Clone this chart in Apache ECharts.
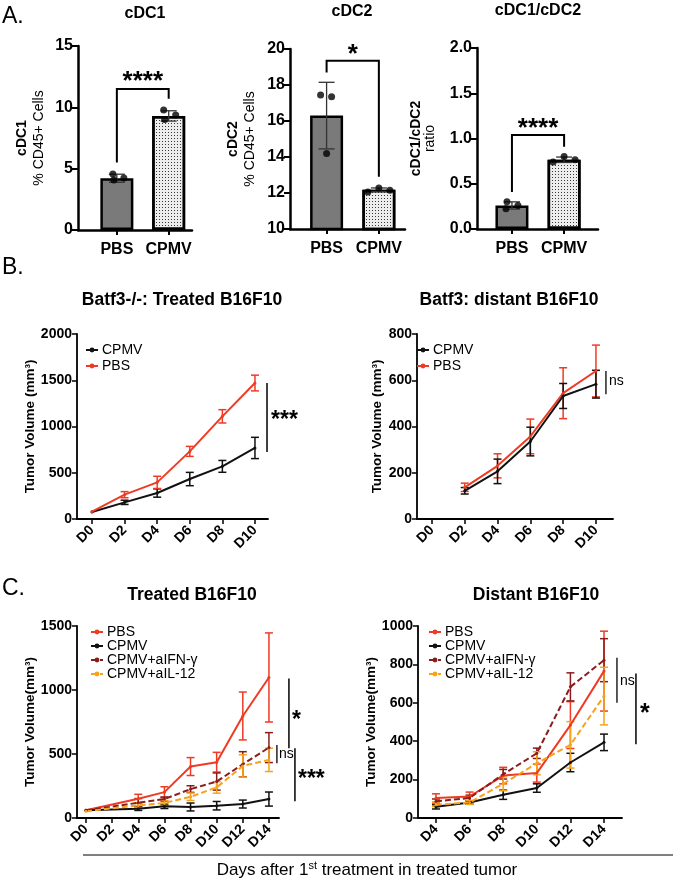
<!DOCTYPE html>
<html>
<head>
<meta charset="utf-8">
<script src="https://cdn.jsdelivr.net/npm/echarts@6/dist/echarts.min.js"></script>
<style>html,body{margin:0;padding:0;background:#fff}#c{width:675px;height:879px}</style>
</head>
<body>
<div id="c"></div>
<script>
// ---------- Panel A data ----------
const barGroups = ['PBS', 'CPMV'];
const cdc1Mean = [4.22, 9.3];
const cdc1Sd = [0.33, 0.42];
const cdc1Pts = [[4.56, 4.07, 4.24], [9.78, 9.0, 9.37]];
const cdc2Mean = [16.3, 12.18];
const cdc2Sd = [1.85, 0.1];
const cdc2Pts = [[17.45, 17.35, 14.2], [12.05, 12.28, 12.15]];
const ratioMean = [0.26, 0.765];
const ratioSd = [0.04, 0.03];
const ratioPts = [[0.30, 0.225, 0.26], [0.74, 0.80, 0.765]];
// horizontal jitter of individual dots (px, styling only)
const jitA1 = [[-4, -3, 7], [-5, -4, 7]];
const jitA2 = [[-6, 5, 0], [-11, 0, 11]];
const jitA3 = [[-5, -6, 6], [-11, 0, 11]];
// significance brackets: [left leg bottom, top, right leg bottom]
const bracketA1 = [5.5, 11.5, 10.7];
const bracketA2 = [18.7, 19.35, 12.9];
const bracketA3 = [0.41, 1.04, 0.91];

// ---------- Panel B data ----------
const tickDaysB = [0, 2, 4, 6, 8, 10];
const daysBT = [0, 2, 4, 6, 8, 10];
const bTreatPBS = [80, 263, 396, 731, 1110, 1470];
const bTreatPBSErr = [0, 33, 66, 54, 72, 85];
const bTreatCPMV = [76, 180, 281, 432, 569, 768];
const bTreatCPMVErr = [0, 23, 45, 72, 64, 115];
const daysBD = [2, 4, 6, 8, 10];
const bDistPBS = [137, 230, 357, 544, 640];
const bDistPBSErr = [18, 52, 75, 110, 112];
const bDistCPMV = [122, 206, 335, 532, 583];
const bDistCPMVErr = [14, 53, 62, 54, 60];

// ---------- Panel C data ----------
const tickDaysCT = [0, 2, 4, 6, 8, 10, 12, 14];
const daysCT = [0, 4, 6, 8, 10, 12, 14];
const cTreatPBS = [60, 150, 202, 402, 436, 797, 1098];
const cTreatPBSErr = [0, 35, 42, 70, 77, 187, 348];
const cTreatCPMV = [60, 73, 91, 86, 96, 109, 148];
const cTreatCPMVErr = [0, 14, 17, 31, 33, 31, 55];
const cTreatIFN = [60, 119, 148, 226, 285, 420, 550];
const cTreatIFNErr = [0, 33, 16, 26, 67, 98, 117];
const cTreatIL12 = [52, 99, 117, 166, 239, 407, 454];
const cTreatIL12Err = [0, 20, 19, 29, 45, 87, 91];
const tickDaysCD = [4, 6, 8, 10, 12, 14];
const daysCD = [4, 6, 8, 10, 12, 14];
const cDistPBS = [104, 112, 221, 234, 484, 765];
const cDistPBSErr = [22, 23, 43, 47, 122, 208];
const cDistCPMV = [58, 81, 121, 156, 289, 394];
const cDistCPMVErr = [11, 9, 24, 22, 48, 43];
const cDistIFN = [87, 104, 228, 337, 683, 822];
const cDistIFNErr = [12, 15, 25, 27, 73, 112];
const cDistIL12 = [69, 81, 178, 285, 381, 635];
const cDistIL12Err = [10, 10, 36, 60, 121, 150];

const FONT = '"Liberation Sans", Arial, Helvetica, sans-serif';
const RED = '#ef3b24', BLACK = '#111111', DRED = '#8b1c1c', ORANGE = '#f7a21c';

const decalDots = {symbol: 'rect', symbolSize: 1, dashArrayX: [1, 2], dashArrayY: [1, 2], color: '#3a3a3a'};

// ---------- helpers ----------
function errRender(color, capHalf, width) {
  return function (params, api) {
    const x = api.value(0), lo = api.value(1), hi = api.value(2);
    if (hi - lo <= 0) return null;
    const a = api.coord([x, lo]), b = api.coord([x, hi]);
    const st = {stroke: color, lineWidth: width, fill: null};
    return {type: 'group', children: [
      {type: 'line', shape: {x1: a[0], y1: a[1], x2: b[0], y2: b[1]}, style: st},
      {type: 'line', shape: {x1: a[0] - capHalf, y1: a[1], x2: a[0] + capHalf, y2: a[1]}, style: st},
      {type: 'line', shape: {x1: b[0] - capHalf, y1: b[1], x2: b[0] + capHalf, y2: b[1]}, style: st}
    ]};
  };
}
function errSeries(ax, xs, mean, err, color, capHalf, width, z) {
  return {type: 'custom', xAxisIndex: ax, yAxisIndex: ax, silent: true, z: z || 3,
    renderItem: errRender(color, capHalf, width),
    encode: {x: 0, y: [1, 2]},
    data: xs.map((x, i) => [x, mean[i] - err[i], mean[i] + err[i]])};
}
// annotation: polyline through data points + text near a data point
function annoSeries(ax, pts, text, tx, ty, font, dx, dy, lw, align) {
  return {type: 'custom', xAxisIndex: ax, yAxisIndex: ax, silent: true, z: 6, clip: false,
    data: [[tx, ty]],
    renderItem: function (params, api) {
      const poly = pts.map(p => api.coord(p));
      const t = api.coord([api.value(0), api.value(1)]);
      const al = align || 'left';
      return {type: 'group', children: [
        {type: 'polyline', shape: {points: poly}, style: {stroke: '#000', lineWidth: lw || 1.6, fill: null}},
        {type: 'text', x: t[0] + (dx || 0), y: t[1] + (dy || 0),
          style: {text: text, font: font, fill: '#000', align: al, verticalAlign: 'middle', textAlign: al, textVerticalAlign: 'middle'}}
      ]};
    }};
}

const series = [];
function barPanel(ax, mean, sd, pts, jit, br, stars, starY) {
  series.push({type: 'bar', xAxisIndex: ax, yAxisIndex: ax, barWidth: 33, z: 2, silent: true,
    data: mean.map((m, i) => ({value: [i + 1, m],
      itemStyle: i === 0 ? {color: '#7a7a7a', borderColor: '#000', borderWidth: 2.5}
        : {color: '#ededed', borderColor: '#000', borderWidth: 2.5, decal: decalDots}}))});
  series.push(errSeries(ax, [1, 2], mean, sd, '#333', 8, 1.3, 3));
  const dots = [];
  pts.forEach((g, i) => g.forEach((v, k) => dots.push({value: [i + 1, v], symbolOffset: [jit[i][k], 0]})));
  series.push({type: 'scatter', xAxisIndex: ax, yAxisIndex: ax, symbolSize: 7, z: 4, silent: true,
    itemStyle: {color: '#000'}, data: dots});
  series.push(annoSeries(ax, [[1, br[0]], [1, br[1]], [2, br[1]], [2, br[2]]], stars, 1.5, starY,
    'bold 26px ' + FONT, 0, 0, 2, 'center'));
}
barPanel(0, cdc1Mean, cdc1Sd, cdc1Pts, jitA1, bracketA1, '****', 12.1);
barPanel(1, cdc2Mean, cdc2Sd, cdc2Pts, jitA2, bracketA2, '*', 19.65);
barPanel(2, ratioMean, ratioSd, ratioPts, jitA3, bracketA3, '****', 1.11);

function lineS(ax, name, xs, ys, color, dashed) {
  return {type: 'line', name: name, xAxisIndex: ax, yAxisIndex: ax, z: 3, silent: true,
    symbol: 'circle', symbolSize: 3, showSymbol: true,
    itemStyle: {color: color},
    lineStyle: {color: color, width: 2, type: dashed ? [6, 3] : 'solid'},
    data: xs.map((x, i) => [x, ys[i]])};
}
// B left
series.push(lineS(3, 'CPMV', daysBT, bTreatCPMV, BLACK));
series.push(errSeries(3, daysBT, bTreatCPMV, bTreatCPMVErr, BLACK, 4, 1.5));
series.push(lineS(3, 'PBS', daysBT, bTreatPBS, RED));
series.push(errSeries(3, daysBT, bTreatPBS, bTreatPBSErr, RED, 4, 1.5));
series.push(annoSeries(3, [[10.74, 724], [10.74, 1470]], '***', 10.74, 1060, 'bold 23px ' + FONT, 4, 0, 1.5));
// B right
series.push(lineS(4, 'PBS', daysBD, bDistPBS, RED));
series.push(errSeries(4, daysBD, bDistPBS, bDistPBSErr, RED, 4, 1.5));
series.push(lineS(4, 'CPMV', daysBD, bDistCPMV, BLACK));
series.push(errSeries(4, daysBD, bDistCPMV, bDistCPMVErr, BLACK, 4, 1.5));
series.push(annoSeries(4, [[10.61, 540], [10.61, 640]], 'ns', 10.61, 595, '14px ' + FONT, 3, 0, 1.3));
// C left
series.push(lineS(5, 'PBS', daysCT, cTreatPBS, RED));
series.push(errSeries(5, daysCT, cTreatPBS, cTreatPBSErr, RED, 4, 1.5));
series.push(lineS(5, 'CPMV', daysCT, cTreatCPMV, BLACK));
series.push(errSeries(5, daysCT, cTreatCPMV, cTreatCPMVErr, BLACK, 4, 1.5));
series.push(lineS(5, 'CPMV+aIFN-γ', daysCT, cTreatIFN, DRED, true));
series.push(errSeries(5, daysCT, cTreatIFN, cTreatIFNErr, DRED, 4, 1.5));
series.push(lineS(5, 'CPMV+aIL-12', daysCT, cTreatIL12, ORANGE, true));
series.push(errSeries(5, daysCT, cTreatIL12, cTreatIL12Err, ORANGE, 4, 1.5));
series.push(annoSeries(5, [[15.53, 545], [15.53, 1090]], '*', 15.53, 760, 'bold 23px ' + FONT, 3, 0, 1.5));
series.push(annoSeries(5, [[14.61, 428], [14.61, 571]], 'ns', 14.61, 500, '14px ' + FONT, 2, 0, 1.3));
series.push(annoSeries(5, [[15.99, 130], [15.99, 545]], '***', 15.99, 300, 'bold 23px ' + FONT, 3, 0, 1.5));
// C right
series.push(lineS(6, 'PBS', daysCD, cDistPBS, RED));
series.push(errSeries(6, daysCD, cDistPBS, cDistPBSErr, RED, 4, 1.5));
series.push(lineS(6, 'CPMV', daysCD, cDistCPMV, BLACK));
series.push(errSeries(6, daysCD, cDistCPMV, cDistCPMVErr, BLACK, 4, 1.5));
series.push(lineS(6, 'CPMV+aIFN-γ', daysCD, cDistIFN, DRED, true));
series.push(errSeries(6, daysCD, cDistIFN, cDistIFNErr, DRED, 4, 1.5));
series.push(lineS(6, 'CPMV+aIL-12', daysCD, cDistIL12, ORANGE, true));
series.push(errSeries(6, daysCD, cDistIL12, cDistIL12Err, ORANGE, 4, 1.5));
series.push(annoSeries(6, [[14.77, 600], [14.77, 834]], 'ns', 14.77, 714, '14px ' + FONT, 3, 0, 1.3));
series.push(annoSeries(6, [[15.9, 384], [15.9, 753]], '*', 15.9, 540, 'bold 25px ' + FONT, 4, 0, 1.5));

// ---------- axes ----------
const grids = [
  {left: 78, top: 46, width: 114, height: 184},
  {left: 290, top: 49, width: 115, height: 180},
  {left: 477, top: 48, width: 121, height: 181},
  {left: 77, top: 334, width: 191, height: 185},
  {left: 417, top: 334, width: 196, height: 185},
  {left: 77, top: 626, width: 202, height: 192},
  {left: 418, top: 626, width: 204, height: 192}
];
function xA(gi, min, max, ticks, fmt, big) {
  return {type: 'value', gridIndex: gi, min: min, max: max,
    axisLine: {show: true, onZero: false, lineStyle: {color: '#000', width: big ? 2.5 : 1.8}},
    splitLine: {show: false},
    axisTick: {show: true, customValues: ticks, length: 5, lineStyle: {color: '#000', width: big ? 2 : 1.5}},
    axisLabel: {customValues: ticks, formatter: fmt, color: '#000', fontFamily: FONT, fontWeight: 'bold',
      fontSize: big ? 16 : 14, rotate: big ? 0 : 45, margin: big ? 12 : 9}};
}
function yA(gi, min, max, interval, fmt, name, gap, big, rich) {
  return {type: 'value', gridIndex: gi, min: min, max: max, interval: interval,
    axisLine: {show: true, onZero: false, lineStyle: {color: '#000', width: big ? 2.5 : 1.8}},
    splitLine: {show: false},
    axisTick: {show: true, length: big ? 6 : 5, lineStyle: {color: '#000', width: big ? 2 : 1.5}},
    axisLabel: {formatter: fmt || (v => String(v)), color: '#000', fontFamily: FONT, fontWeight: 'bold', fontSize: big ? 16 : 14, margin: 5},
    name: name, nameLocation: 'middle', nameGap: gap,
    nameTextStyle: rich ? {rich: rich, fontFamily: FONT, color: '#000', align: 'center'}
      : {fontFamily: FONT, fontWeight: 'bold', fontSize: 13.5, color: '#000'}};
}
const richA = {
  b: {fontFamily: FONT, fontWeight: 'bold', fontSize: 14, lineHeight: 17, color: '#000', align: 'center'},
  r: {fontFamily: FONT, fontWeight: 'normal', fontSize: 14, lineHeight: 17, color: '#000', align: 'center'}
};
const richR = {
  b: {fontFamily: FONT, fontWeight: 'bold', fontSize: 14, lineHeight: 14, color: '#000', align: 'center'},
  r: {fontFamily: FONT, fontWeight: 'normal', fontSize: 14, lineHeight: 14, color: '#000', align: 'center'}
};
const catFmt = v => barGroups[Math.round(v) - 1];
const dayFmt = v => 'D' + v;

const xAxis = [
  xA(0, 0.25, 2.45, [1, 2], catFmt, true),
  xA(1, 0.3, 2.5, [1, 2], catFmt, true),
  xA(2, 0.33, 2.65, [1, 2], catFmt, true),
  xA(3, -0.92, 10.8, tickDaysB, dayFmt, false),
  xA(4, -0.91, 11.04, tickDaysB, dayFmt, false),
  xA(5, -0.69, 14.77, tickDaysCT, dayFmt, false),
  xA(6, 2.93, 15.07, tickDaysCD, dayFmt, false)
];
const yAxis = [
  yA(0, 0, 15, 5, null, '{b|cDC1}\n{r|% CD45+ Cells}', 30, true, richA),
  yA(1, 10, 20, 2, null, '{b|cDC2}\n{r|% CD45+ Cells}', 31, true, richA),
  yA(2, 0, 2, 0.5, v => v.toFixed(1), '{b|cDC1/cDC2}\n{r|ratio}', 40, true, richR),
  yA(3, 0, 2000, 500, null, 'Tumor Volume (mm³)', 37, false),
  yA(4, 0, 800, 200, null, 'Tumor Volume (mm³)', 29, false),
  yA(5, 0, 1500, 500, null, 'Tumor Volume(mm³)', 34, false),
  yA(6, 0, 1000, 200, null, 'Tumor Volume(mm³)', 36, false)
];

function leg(left, top, names, lh) {
  return {left: left, top: top, orient: 'vertical', padding: 0, itemGap: 0, itemWidth: 12, itemHeight: 6,
    selectedMode: false, data: names,
    textStyle: {fontFamily: FONT, fontSize: 14, lineHeight: lh, color: '#000', padding: [0, 0, 0, -1]}};
}
const legend = [
  leg(85, 342, ['CPMV', 'PBS'], 16),
  leg(416, 342, ['CPMV', 'PBS'], 16),
  leg(90, 625, ['PBS', 'CPMV', 'CPMV+aIFN-γ', 'CPMV+aIL-12'], 13),
  leg(428, 625, ['PBS', 'CPMV', 'CPMV+aIFN-γ', 'CPMV+aIL-12'], 13)
];

function txt(x, y, t, size, weight, align) {
  return {type: 'text', x: x, y: y, silent: true,
    style: {text: t, fontFamily: FONT, fontSize: size, fontWeight: weight || 'bold', fill: '#000',
      align: align || 'center', verticalAlign: 'middle', textAlign: align || 'center', textVerticalAlign: 'middle'}};
}
const graphic = [
  txt(2, 17, 'A.', 23, 'normal', 'left'),
  txt(2, 268, 'B.', 23, 'normal', 'left'),
  txt(2, 589, 'C.', 23, 'normal', 'left'),
  txt(145, 14, 'cDC1', 16),
  txt(352, 12, 'cDC2', 16),
  txt(538, 11, 'cDC1/cDC2', 16),
  txt(182, 300, 'Batf3-/-: Treated B16F10', 17.5),
  txt(509, 300, 'Batf3: distant B16F10', 17.5),
  txt(192, 595, 'Treated B16F10', 17.5),
  txt(536, 595, 'Distant B16F10', 17.5),
  {type: 'line', silent: true, shape: {x1: 83, y1: 855, x2: 673, y2: 855}, style: {stroke: '#000', lineWidth: 1}},
  {type: 'text', x: 367, y: 870, silent: true,
    style: {text: '{a|Days after 1}{s|st}{a| treatment in treated tumor}', align: 'center', verticalAlign: 'middle',
      textAlign: 'center', textVerticalAlign: 'middle',
      rich: {a: {fontFamily: FONT, fontSize: 17, lineHeight: 20, fill: '#000', color: '#000'},
             s: {fontFamily: FONT, fontSize: 11, lineHeight: 11, verticalAlign: 'top', fill: '#000', color: '#000'}}}}
];

const chart = echarts.init(document.getElementById('c'), null, {renderer: 'canvas'});
chart.setOption({
  animation: false,
  backgroundColor: '#fff',
  grid: grids,
  xAxis: xAxis,
  yAxis: yAxis,
  legend: legend,
  graphic: graphic,
  series: series
});
</script>
</body>
</html>
